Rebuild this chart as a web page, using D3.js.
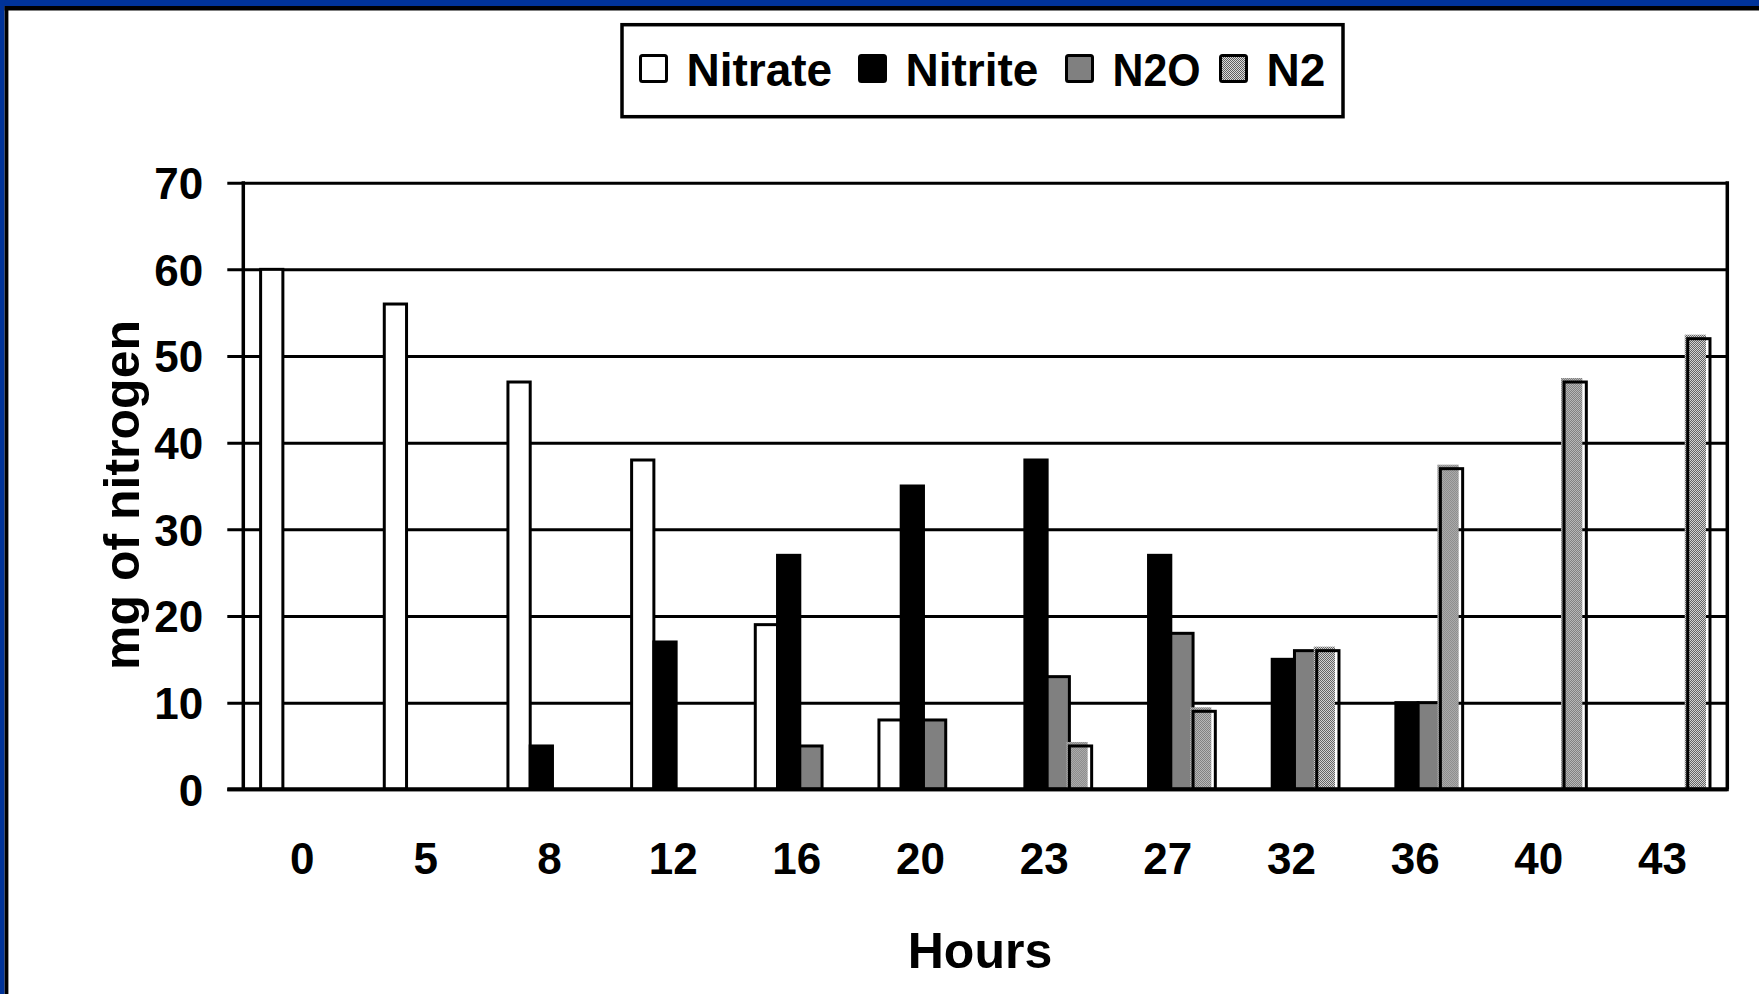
<!DOCTYPE html>
<html>
<head>
<meta charset="utf-8">
<script src="https://cdn.jsdelivr.net/npm/d3@7"></script>
<style>
  body { margin: 0; background: #fff; }
  text { font-family: 'Liberation Sans', Arial, sans-serif; font-weight: bold; fill: #000; }
</style>
</head>
<body>
<div class="main"></div>
<script>
const w = 1759;
const h = 994;

// data
const hours = ['0', '5', '8', '12', '16', '20', '23', '27', '32', '36', '40', '43'];
const seriesNames = ['Nitrate', 'Nitrite', 'N2O', 'N2'];
const nitrate = [60, 56, 47, 38, 19, 8, 0, 0, 0, 0, 0, 0];
const nitrite = [0, 0, 5, 17, 27, 35, 38, 27, 15, 10, 0, 0];
const n2o = [0, 0, 0, 0, 5, 8, 13, 18, 16, 10, 0, 0];
const n2 = [0, 0, 0, 0, 0, 0, 5, 9, 16, 37, 47, 52];
const yTicks = [0, 10, 20, 30, 40, 50, 60, 70];

const series = [nitrate, nitrite, n2o, n2];

const plot = { left: 243.3, right: 1727.3, top: 182.7, bottom: 789.3 };
// legend item left edges (swatch)
const legendX = [639, 858, 1065, 1219];

const svg = d3.select('.main').append('svg').attr('width', w).attr('height', h);

const defs = svg.append('defs');
const pat = defs
  .append('pattern')
  .attr('id', 'dots')
  .attr('width', 2)
  .attr('height', 2)
  .attr('patternUnits', 'userSpaceOnUse');
pat.append('rect').attr('width', 2).attr('height', 2).attr('fill', '#dadada');
pat.append('rect').attr('width', 1).attr('height', 1).attr('fill', '#5e5e5e');
pat.append('rect').attr('x', 1).attr('y', 1).attr('width', 1).attr('height', 1).attr('fill', '#5e5e5e');

const fills = ['#fff', '#000', '#808080', 'url(#dots)'];

// slide frame
svg.append('rect').attr('width', w).attr('height', h).attr('fill', '#fff');
svg.append('rect').attr('x', 0).attr('y', 0).attr('width', w).attr('height', 6).attr('fill', '#003399');
svg.append('rect').attr('x', 0).attr('y', 0).attr('width', 4.6).attr('height', h).attr('fill', '#003399');
svg.append('rect').attr('x', 4.6).attr('y', 6).attr('width', w).attr('height', 4.5).attr('fill', '#000');
svg.append('rect').attr('x', 4.6).attr('y', 6).attr('width', 3.8).attr('height', h).attr('fill', '#000');

const x0 = d3
  .scaleBand()
  .domain(hours)
  .range([plot.left, plot.right])
  .paddingInner(0.28)
  .paddingOuter(0.14);

const x1 = d3.scaleBand().domain(seriesNames).range([0, x0.bandwidth()]);

const y = d3.scaleLinear().domain([0, 70]).range([plot.bottom, plot.top]);

// gridlines + y labels
const yAxis = svg
  .append('g')
  .attr('transform', `translate(${plot.left - 16},0)`)
  .call(
    d3
      .axisLeft(y)
      .tickValues(yTicks)
      .tickSizeInner(-(plot.right - plot.left + 16))
      .tickSizeOuter(0)
      .tickPadding(24)
  );
yAxis.select('.domain').remove();
yAxis.selectAll('line').attr('stroke', '#000').attr('stroke-width', 3);
yAxis.selectAll('text').attr('font-size', 44).attr('dy', '0.36em');

// bars
const groups = svg
  .append('g')
  .selectAll('g')
  .data(hours)
  .enter()
  .append('g')
  .attr('transform', (d) => `translate(${x0(d)},0)`);

groups.each(function (hr, i) {
  const g = d3.select(this);
  seriesNames.forEach(function (name, s) {
    const v = series[s][i];
    if (!v) return;
    const bx = x1(name);
    const bw = x1.bandwidth();
    if (name === 'N2') {
      // hatched fill sits a little up-left of its outline, as in the original
      g.append('rect')
        .attr('x', bx - 3)
        .attr('y', y(v) - 4)
        .attr('width', bw - 1)
        .attr('height', plot.bottom - y(v) + 4)
        .attr('fill', fills[s]);
      g.append('rect')
        .attr('x', bx)
        .attr('y', y(v))
        .attr('width', bw)
        .attr('height', plot.bottom - y(v))
        .attr('fill', 'none')
        .attr('stroke', '#000')
        .attr('stroke-width', 3);
    } else {
      g.append('rect')
        .attr('x', bx)
        .attr('y', y(v))
        .attr('width', bw)
        .attr('height', plot.bottom - y(v))
        .attr('fill', fills[s])
        .attr('stroke', '#000')
        .attr('stroke-width', 3);
    }
  });
});

// axis frame lines
svg.append('line')
  .attr('x1', plot.left).attr('x2', plot.left)
  .attr('y1', plot.top - 1.5).attr('y2', plot.bottom)
  .attr('stroke', '#000').attr('stroke-width', 3.5);
svg.append('line')
  .attr('x1', plot.right).attr('x2', plot.right)
  .attr('y1', plot.top - 1.5).attr('y2', plot.bottom)
  .attr('stroke', '#000').attr('stroke-width', 3.5);
svg.append('line')
  .attr('x1', plot.left - 16).attr('x2', plot.right + 1.5)
  .attr('y1', plot.bottom).attr('y2', plot.bottom)
  .attr('stroke', '#000').attr('stroke-width', 4);

// x labels
const xAxis = svg
  .append('g')
  .attr('transform', `translate(-3,${plot.bottom})`)
  .call(d3.axisBottom(x0).tickSize(0).tickPadding(53));
xAxis.select('.domain').remove();
xAxis.selectAll('text').attr('font-size', 44);

// axis titles
svg.append('text')
  .attr('x', 980)
  .attr('y', 968)
  .attr('text-anchor', 'middle')
  .attr('font-size', 50)
  .text('Hours');

svg.append('text')
  .attr('transform', 'translate(138.5,495) rotate(-90)')
  .attr('text-anchor', 'middle')
  .attr('font-size', 50)
  .text('mg of nitrogen');

// legend
const legend = svg.append('g');
legend.append('rect')
  .attr('x', 622).attr('y', 24.7)
  .attr('width', 721).attr('height', 92)
  .attr('fill', '#fff').attr('stroke', '#000').attr('stroke-width', 3.5);

seriesNames.forEach(function (name, s) {
  const lx = legendX[s];
  legend.append('rect')
    .attr('x', lx + 1.5).attr('y', 55.5)
    .attr('width', 26).attr('height', 26)
    .attr('rx', 2)
    .attr('fill', fills[s]).attr('stroke', '#000').attr('stroke-width', 3);
  legend.append('text')
    .attr('x', lx + 47.5)
    .attr('y', 86)
    .attr('font-size', 46)
    .attr('textLength', name === 'N2O' ? 88 : null)
    .attr('lengthAdjust', 'spacingAndGlyphs')
    .text(name);
});
</script>
</body>
</html>
